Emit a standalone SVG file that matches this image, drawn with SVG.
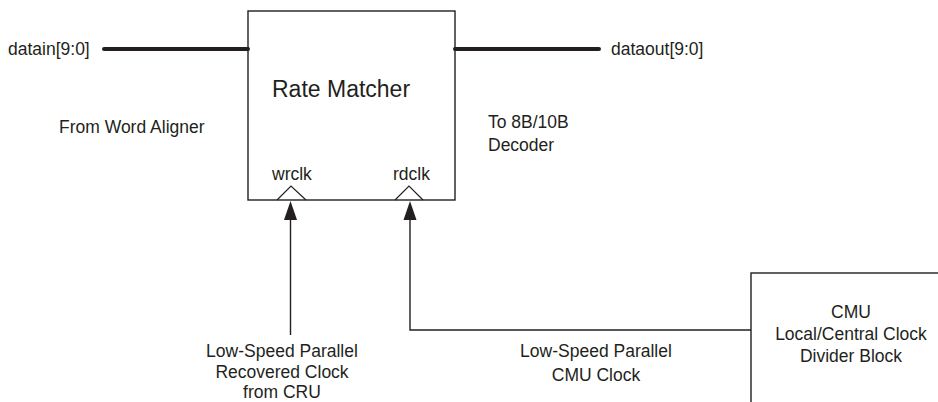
<svg xmlns="http://www.w3.org/2000/svg" width="938" height="402" viewBox="0 0 938 402">
<defs>
<style>
text{font-family:"Liberation Sans",Arial,sans-serif;font-size:17.5px;fill:#231f20}
.box{fill:#fff;stroke:#231f20;stroke-width:1.4}
.bus{stroke:#231f20;stroke-width:4;stroke-linecap:round;fill:none}
.wire{stroke:#231f20;stroke-width:1.4;fill:none}
.clk{stroke:#231f20;stroke-width:1.2;fill:none}
.head{fill:#231f20}
.mid{text-anchor:middle}
</style>
</defs>
<rect width="938" height="402" fill="#fff"/>
<g id="rate-matcher">
<rect class="box" x="248" y="11" width="207" height="189"/>
<text x="272" y="97" style="font-size:23px">Rate Matcher</text>
<text x="272" y="180">wrclk</text>
<text x="393" y="180">rdclk</text>
<polyline class="clk" points="277,200 291,186 306,200"/>
<polyline class="clk" points="395,200 409,186 423,200"/>
</g>
<g id="cmu">
<rect class="box" x="751" y="273" width="200" height="200"/>
<text class="mid" x="851" y="318">CMU</text>
<text class="mid" x="851" y="340">Local/Central Clock</text>
<text class="mid" x="851" y="362">Divider Block</text>
</g>
<g id="labels">
<text x="8" y="55">datain[9:0]</text>
<text x="611" y="55">dataout[9:0]</text>
<text x="59" y="133">From Word Aligner</text>
<text x="488" y="128">To 8B/10B</text>
<text x="488" y="151">Decoder</text>
<text class="mid" x="282" y="357">Low-Speed Parallel</text>
<text class="mid" x="282" y="377.5">Recovered Clock</text>
<text class="mid" x="282" y="397.5">from CRU</text>
<text class="mid" x="596" y="357">Low-Speed Parallel</text>
<text class="mid" x="596" y="381">CMU Clock</text>
</g>
<g id="connectors">
<line class="bus" x1="104" y1="49" x2="248" y2="49"/>
<line class="bus" x1="455" y1="49" x2="599" y2="49"/>
<path class="head" d="M284,220 L290.5,201 L297,220 Z"/>
<line class="wire" x1="290.5" y1="335" x2="290.5" y2="218"/>
<path class="head" d="M403.5,220 L410,201 L416.5,220 Z"/>
<polyline class="wire" points="751,330 410,330 410,218"/>
</g>
</svg>
